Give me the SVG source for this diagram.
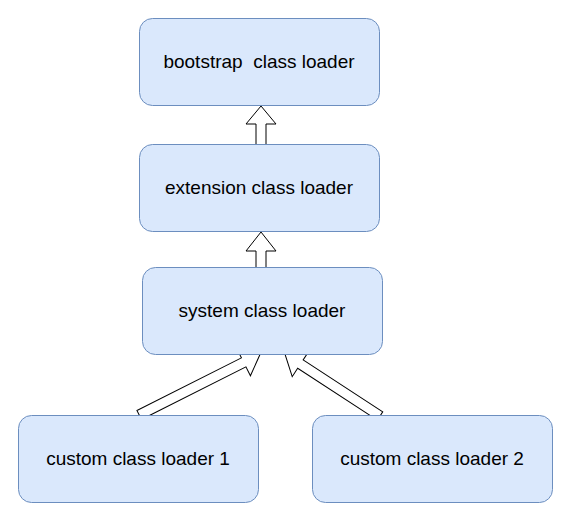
<svg xmlns="http://www.w3.org/2000/svg" width="573" height="524" viewBox="0 0 573 524">
<style>
.box{fill:#dae8fc;stroke:#6c8ebf;stroke-width:1}
.lbl{font-family:"Liberation Sans",Arial,sans-serif;font-size:19px;fill:#000;text-anchor:middle;white-space:pre}
.arr{fill:#fff;stroke:#000;stroke-width:1;stroke-linejoin:miter}
</style>
<rect width="573" height="524" fill="#fff"/>
<g id="connectors">
<path class="arr" transform="translate(261,144.5) rotate(-90)" d="M0,-5 L20.5,-5 L20.5,-15 L38.5,0 L20.5,15 L20.5,5 L0,5 Z"/>
<path class="arr" transform="translate(261,267.5) rotate(-90)" d="M0,-5 L16.5,-5 L16.5,-15 L35.5,0 L16.5,15 L16.5,5 L0,5 Z"/>
<path class="arr" transform="translate(139.2,415) rotate(-26.75)" d="M0,-5 L117,-5 L117,-15 L135.5,0 L117,15 L117,5 L0,5 Z"/>
<path class="arr" transform="translate(380,416) rotate(-146.9)" d="M0,-5 L95,-5 L95,-15 L113.4,0 L95,15 L95,5 L0,5 Z"/>
</g>
<g id="bootstrap">
<rect class="box" x="139.5" y="18.5" width="240" height="87" rx="13"/>
<text class="lbl" x="259" y="67.5" xml:space="preserve">bootstrap  class loader</text>
</g>
<g id="extension">
<rect class="box" x="139.5" y="144.5" width="240" height="87" rx="13"/>
<text class="lbl" x="259" y="193.5">extension class loader</text>
</g>
<g id="system">
<rect class="box" x="142.5" y="267.5" width="240" height="87" rx="13"/>
<text class="lbl" x="262" y="316.5">system class loader</text>
</g>
<g id="custom1">
<rect class="box" x="18.5" y="415.5" width="240" height="87" rx="13"/>
<text class="lbl" x="138" y="464.5">custom class loader 1</text>
</g>
<g id="custom2">
<rect class="box" x="312.5" y="415.5" width="240" height="87" rx="13"/>
<text class="lbl" x="432" y="464.5">custom class loader 2</text>
</g>
</svg>
